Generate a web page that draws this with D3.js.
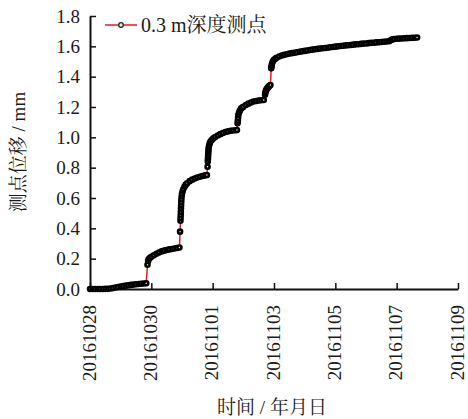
<!DOCTYPE html>
<html>
<head>
<meta charset="utf-8">
<script src="https://cdn.jsdelivr.net/npm/d3@7"></script>
<style>
  html, body { margin: 0; padding: 0; background: #fff; }
  svg { display: block; }
  text { font-family: "Liberation Serif", "Times New Roman", "Noto Serif CJK SC", "Noto Sans CJK SC", serif; fill: #1a1a1a; }
</style>
</head>
<body>
<script>
// ---- data (hours since 2016-10-28 00:00, displacement in mm) ----
const startDate = "20161028";
const endDate = "20161109";
const tickLabels = ["20161028", "20161030", "20161101", "20161103", "20161105", "20161107", "20161109"];
const yTicks = [0.0, 0.2, 0.4, 0.6, 0.8, 1.0, 1.2, 1.4, 1.6, 1.8];
const seriesName = "0.3 m深度测点";
const hours = [
  0, 2, 4, 6, 8, 10, 12, 14, 16, 18, 20, 22, 24, 26, 28, 30, 32, 34, 36, 38, 40, 42, 44,
  45, 45.5, 46, 47, 48, 50, 52, 54, 56, 58, 60, 62, 64, 66, 68, 70,
  70.5, 70.8, 70.9, 71.0, 71.1, 71.2, 71.3, 71.4, 71.5, 71.7, 72.0, 72.5, 73, 74, 75, 76, 78, 80, 82, 84, 86, 88, 90, 91.5,
  92.0, 92.2, 92.3, 92.4, 92.5, 92.6, 92.7, 92.85, 93.2, 93.7, 94.3, 95.2, 96.5, 98, 100, 102, 104, 106, 108, 110, 112, 114, 115,
  115.5, 115.7, 115.9, 116.1, 116.6, 117.3, 118.2, 119.2, 120, 122, 124, 126, 128, 130, 132, 134, 136,
  137.0, 137.3, 137.6, 138.0, 138.5, 139.0, 139.5, 140.0, 140.5, 141.2,
  141.8, 142.0, 142.2, 142.6, 143.2, 144, 145, 146, 148, 150, 152, 154, 156, 158, 160, 162, 164, 166, 168, 170,
  172, 174, 176, 178, 180, 182, 184, 186, 188, 190, 192, 194, 196, 198, 200, 202, 204, 206, 208, 210,
  212, 214, 216, 218, 220, 222, 224, 226, 228, 230, 232, 234, 235, 236, 237, 238, 240, 242, 244, 246,
  248, 250, 252, 254, 256
];
const displacement = [
  0.000, 0.000, 0.000, 0.000, 0.000, 0.000, 0.001, 0.001, 0.003, 0.006, 0.010, 0.013, 0.016, 0.019, 0.022, 0.025, 0.027, 0.029, 0.031, 0.033, 0.035, 0.036, 0.038,
  0.160, 0.185, 0.198, 0.206, 0.212, 0.222, 0.232, 0.241, 0.248, 0.253, 0.257, 0.261, 0.264, 0.267, 0.270, 0.274,
  0.378, 0.450, 0.470, 0.490, 0.510, 0.530, 0.550, 0.570, 0.590, 0.610, 0.628, 0.645, 0.658, 0.675, 0.688, 0.697, 0.711, 0.721, 0.729, 0.735, 0.740, 0.745, 0.749, 0.752,
  0.806, 0.840, 0.855, 0.870, 0.885, 0.900, 0.915, 0.930, 0.945, 0.960, 0.972, 0.982, 0.993, 1.002, 1.012, 1.021, 1.029, 1.035, 1.039, 1.043, 1.045, 1.047, 1.048,
  1.093, 1.110, 1.128, 1.147, 1.162, 1.176, 1.189, 1.197, 1.202, 1.213, 1.222, 1.230, 1.236, 1.240, 1.243, 1.245, 1.246,
  1.280, 1.295, 1.305, 1.313, 1.320, 1.326, 1.331, 1.336, 1.340, 1.345,
  1.455, 1.465, 1.477, 1.490, 1.502, 1.511, 1.518, 1.524, 1.533, 1.539, 1.544, 1.548, 1.552, 1.555, 1.558, 1.561, 1.564, 1.567, 1.570, 1.573,
  1.576, 1.578, 1.581, 1.583, 1.585, 1.587, 1.589, 1.591, 1.594, 1.596, 1.598, 1.600, 1.602, 1.604, 1.606, 1.607, 1.609, 1.611, 1.613, 1.614,
  1.616, 1.618, 1.619, 1.621, 1.623, 1.624, 1.626, 1.627, 1.629, 1.630, 1.632, 1.634, 1.638, 1.643, 1.646, 1.648, 1.650, 1.651, 1.652, 1.653,
  1.654, 1.655, 1.656, 1.657, 1.658
];

// ---- layout ----
const W = 468, H = 419;
const margin = { left: 90, top: 16 };
const plotRight = 458, plotBottom = 289;

const parse = d3.utcParse("%Y%m%d");
const t0 = parse(startDate);
const data = hours.map((h, i) => ({ t: new Date(t0.getTime() + h * 3600e3), v: displacement[i] }));

const x = d3.scaleUtc().domain([parse(startDate), parse(endDate)]).range([margin.left, plotRight]);
const y = d3.scaleLinear().domain([0, 1.8]).range([plotBottom, margin.top]);

const svg = d3.select("body").append("svg").attr("width", W).attr("height", H);

// axes
const yAxis = d3.axisLeft(y).tickValues(yTicks).tickFormat(d3.format(".1f"))
  .tickSizeInner(-6).tickSizeOuter(0).tickPadding(10);
const gy = svg.append("g").attr("transform", `translate(${margin.left},0)`).call(yAxis);
gy.selectAll("text").style("font-size", "19px").attr("dy", "0.33em");

const xAxis = d3.axisBottom(x).tickValues(tickLabels.map(parse)).tickFormat(d3.utcFormat("%Y%m%d"))
  .tickSizeInner(-6).tickSizeOuter(0);
const gx = svg.append("g").attr("transform", `translate(0,${plotBottom})`).call(xAxis);
gx.selectAll("text")
  .style("font-size", "19px")
  .attr("transform", "rotate(-90)")
  .attr("x", -16).attr("y", -1.5).attr("dy", "0.35em")
  .style("text-anchor", "end");

[gx, gy].forEach(g => {
  g.select(".domain").attr("stroke", "#111").attr("stroke-width", 2);
  g.selectAll(".tick line").attr("stroke", "#111").attr("stroke-width", 1.5);
});

// axis titles
svg.append("text")
  .attr("transform", "translate(25,152) rotate(-90)")
  .attr("text-anchor", "middle")
  .style("font-size", "19px")
  .text("测点位移 / mm");
svg.append("text")
  .attr("x", 272).attr("y", 414)
  .attr("text-anchor", "middle")
  .style("font-size", "19px")
  .text("时间 / 年月日");

// series line
const line = d3.line().x(d => x(d.t)).y(d => y(d.v));
svg.append("path").datum(data)
  .attr("d", line)
  .attr("fill", "none")
  .attr("stroke", "#e8182c")
  .attr("stroke-width", 1.5);

// markers
svg.append("g").selectAll("circle").data(data).join("circle")
  .attr("cx", d => x(d.t)).attr("cy", d => y(d.v))
  .attr("r", 2.0)
  .attr("fill", "#fff")
  .attr("stroke", "#000")
  .attr("stroke-width", 2.6);

// legend
const lg = svg.append("g");
lg.append("line").attr("x1", 105).attr("x2", 137).attr("y1", 25).attr("y2", 25)
  .attr("stroke", "#e8182c").attr("stroke-width", 1.5);
lg.append("circle").attr("cx", 121).attr("cy", 25).attr("r", 2.3)
  .attr("fill", "#e6f0c8").attr("stroke", "#222").attr("stroke-width", 1.3);
lg.append("text").attr("x", 141).attr("y", 31.5)
  .style("font-size", "20px")
  .text(seriesName);
</script>
</body>
</html>
